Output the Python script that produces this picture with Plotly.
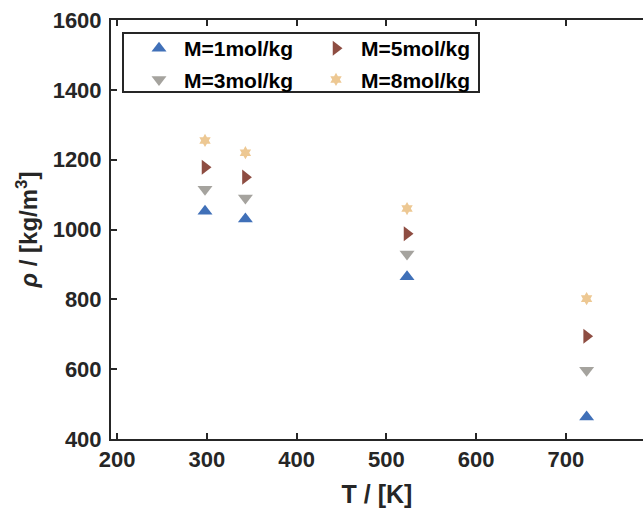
import plotly.graph_objects as go

T = [298, 343, 523, 723]
rho_m1 = [1052, 1030, 865, 463]
rho_m3 = [1115, 1090, 930, 597]
rho_m5 = [1178, 1150, 988, 694]
rho_m8 = [1255, 1220, 1060, 802]

names = ["M=1mol/kg", "M=3mol/kg", "M=5mol/kg", "M=8mol/kg"]
colors = ["#4070B8", "#A5A39E", "#8E4D42", "#EDC893"]
symbols = ["triangle-up", "triangle-down", "triangle-right", "hexagram"]
sizes = [13, 13, 13, 10]
series = [rho_m1, rho_m3, rho_m5, rho_m8]
legends = ["legend", "legend", "legend2", "legend2"]

fig = go.Figure()
for name, col, sym, sz, ys, lg in zip(names, colors, symbols, sizes, series, legends):
    fig.add_trace(go.Scatter(
        x=T, y=ys, mode="markers", name=name, legend=lg,
        legendgroup=name,
        marker=dict(symbol=sym, size=sz, color=col, line=dict(width=0)),
    ))

W, H = 643, 510
L, R, TOP, B = 111, 0, 20, 71
pw = W - L - R
ph = H - TOP - B

def px2x(p):
    return (p - L) / pw

def py2y(p):
    return (H - B - p) / ph

font_main = "Liberation Sans, Arial, sans-serif"
axcol = "#262626"

leg_common = dict(
    font=dict(family=font_main, size=21, color="#000000", weight="bold"),
    bgcolor="rgba(0,0,0,0)", borderwidth=0,
    xanchor="left", yanchor="top", tracegroupgap=1,
    itemwidth=40,
)

fig.update_layout(
    width=W, height=H,
    margin=dict(l=L, r=R, t=TOP, b=B, pad=0),
    paper_bgcolor="white", plot_bgcolor="white",
    showlegend=True,
    legend=dict(x=px2x(134), y=py2y(28), **leg_common),
    legend2=dict(x=px2x(311), y=py2y(28), **leg_common),
    font=dict(family=font_main, color=axcol),
    xaxis=dict(
        range=[193.3, 785.8], tickvals=[200, 300, 400, 500, 600, 700],
        ticks="inside", ticklen=6, tickwidth=2, tickcolor=axcol,
        showline=True, linewidth=2, linecolor=axcol, mirror="ticks",
        showgrid=False, zeroline=False,
        tickfont=dict(family=font_main, size=22, color=axcol, weight="bold"),
        title=dict(text="T / [K]", font=dict(family=font_main, size=25, color=axcol, weight="bold"), standoff=14),
    ),
    yaxis=dict(
        range=[400, 1600], tickvals=[400, 600, 800, 1000, 1200, 1400, 1600],
        ticks="inside", ticklen=6, tickwidth=2, tickcolor=axcol,
        showline=True, linewidth=2, linecolor=axcol, mirror=False,
        showgrid=False, zeroline=False, ticklabelstandoff=3,
        tickfont=dict(family=font_main, size=22, color=axcol, weight="bold"),
        title=dict(text="<i>ρ</i> / [kg/m<sup>3</sup>]", font=dict(family=font_main, size=24, color=axcol, weight="bold"), standoff=8),
    ),
    shapes=[dict(
        type="rect", xref="paper", yref="paper",
        x0=px2x(123), x1=px2x(479), y0=py2y(92), y1=py2y(33),
        line=dict(color=axcol, width=2), fillcolor="rgba(0,0,0,0)",
    )],
)

fig.write_html("out.html")
